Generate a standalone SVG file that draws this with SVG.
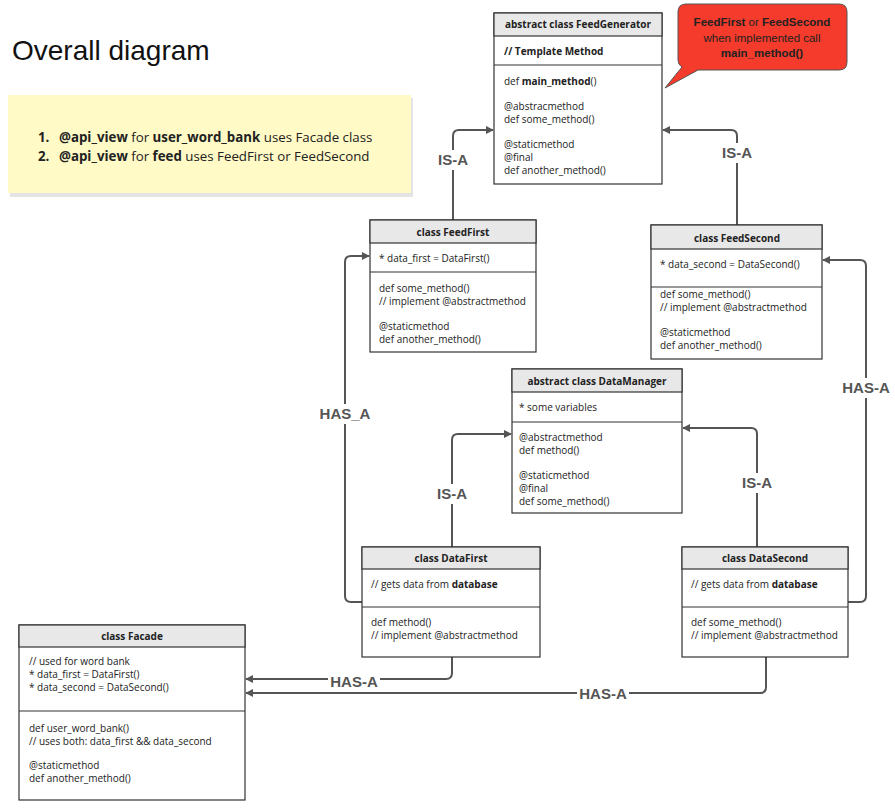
<svg xmlns="http://www.w3.org/2000/svg" width="895" height="811" viewBox="0 0 895 811">
<defs>
<style>
.box{fill:#fff;stroke:#333;stroke-width:1.2}
.hdr{fill:#e8e8e8;stroke:#333;stroke-width:1.2}
.div{stroke:#333;stroke-width:1.2}
.t{font-family:"Open Sans","DejaVu Sans",sans-serif;font-size:10px;fill:#222}
.h{font-family:"Open Sans","DejaVu Sans",sans-serif;font-size:10px;font-weight:bold;fill:#222}
.b{font-weight:bold}
.c{fill:none;stroke:#555;stroke-width:2}
.lbl{font-family:"Liberation Sans",Arial,sans-serif;font-size:15px;font-weight:bold;fill:#555;text-anchor:middle}
.lb{fill:#fff}
</style>
<marker id="ar" viewBox="0 0 10 10" refX="9" refY="5" markerWidth="4" markerHeight="4" orient="auto" markerUnits="strokeWidth">
<path d="M0,0 L10,5 L0,10 Z" fill="#555"/>
</marker>
</defs>
<rect width="895" height="811" fill="#fff"/>

<g id="title">
<text x="12" y="60" font-family="Liberation Sans,Arial,sans-serif" font-size="28" fill="#111">Overall diagram</text>
</g>

<g id="note">
<rect x="10" y="98" width="403" height="99" fill="#e4e4e4"/>
<rect x="8" y="95" width="403" height="98" fill="#fffac6"/>
<text x="38" y="142" font-family="Open Sans,DejaVu Sans,sans-serif" font-size="13.3" fill="#222"><tspan class="b">1.</tspan><tspan x="59" class="b">@api_view</tspan> for <tspan class="b">user_word_bank</tspan> uses Facade class</text>
<text x="38" y="161" font-family="Open Sans,DejaVu Sans,sans-serif" font-size="13.3" fill="#222"><tspan class="b">2.</tspan><tspan x="59" class="b">@api_view</tspan> for <tspan class="b">feed</tspan> uses FeedFirst or FeedSecond</text>
</g>

<g id="callout">
<path d="M686 4 H839 Q847 4 847 12 V62 Q847 70 839 70 H698 L665 88 L682 67 Q678 65 678 60 V12 Q678 4 686 4 Z" fill="#f53b2b" stroke="#555" stroke-width="1"/>
<text x="762" y="26" text-anchor="middle" font-family="Liberation Sans,Arial,sans-serif" font-size="11.5" fill="#222"><tspan class="b">FeedFirst</tspan> or <tspan class="b">FeedSecond</tspan></text>
<text x="762" y="42" text-anchor="middle" font-family="Liberation Sans,Arial,sans-serif" font-size="11.5" fill="#222">when implemented call</text>
<text x="762" y="57" text-anchor="middle" font-family="Liberation Sans,Arial,sans-serif" font-size="11.5" font-weight="bold" fill="#222">main_method()</text>
</g>

<g id="connectors">
<path class="c" d="M453 220 V136 Q453 130 459 130 H493" marker-end="url(#ar)"/>
<path class="c" d="M737 225 V136 Q737 130 731 130 H663" marker-end="url(#ar)"/>
<path class="c" d="M452 547 V440 Q452 434 458 434 H511" marker-end="url(#ar)"/>
<path class="c" d="M757 547 V434 Q757 428 751 428 H683" marker-end="url(#ar)"/>
<path class="c" d="M362 602 H351 Q345 602 345 596 V262 Q345 256 351 256 H369" marker-end="url(#ar)"/>
<path class="c" d="M848 602 H860 Q866 602 866 596 V266 Q866 260 860 260 H823" marker-end="url(#ar)"/>
<path class="c" d="M452 657 V673 Q452 679 446 679 H246" marker-end="url(#ar)"/>
<path class="c" d="M766 657 V687 Q766 693 760 693 H246" marker-end="url(#ar)"/>
<rect class="lb" x="437" y="150" width="32" height="20"/>
<text class="lbl" x="453" y="165">IS-A</text>
<rect class="lb" x="720" y="143" width="34" height="20"/>
<text class="lbl" x="737" y="158">IS-A</text>
<rect class="lb" x="436" y="484" width="32" height="20"/>
<text class="lbl" x="452" y="499">IS-A</text>
<rect class="lb" x="740" y="473" width="34" height="20"/>
<text class="lbl" x="757" y="488">IS-A</text>
<rect class="lb" x="316" y="404" width="58" height="20"/>
<text class="lbl" x="345" y="419">HAS_A</text>
<rect class="lb" x="841" y="378" width="50" height="20"/>
<text class="lbl" x="866" y="393">HAS-A</text>
<rect class="lb" x="328" y="671" width="52" height="20"/>
<text class="lbl" x="354" y="687">HAS-A</text>
<rect class="lb" x="577" y="684" width="52" height="20"/>
<text class="lbl" x="603" y="699">HAS-A</text>
</g>

<g id="FeedGenerator">
<rect class="box" x="494" y="13" width="168" height="171"/>
<rect class="hdr" x="494" y="13" width="168" height="23"/>
<line class="div" x1="494" y1="65" x2="662" y2="65"/>
<text class="h" x="578" y="28" text-anchor="middle">abstract class FeedGenerator</text>
<text class="h" x="504" y="55">// Template Method</text>
<text class="t" x="504" y="85">def <tspan class="b">main_method</tspan>()</text>
<text class="t" x="504" y="110">@abstracmethod</text>
<text class="t" x="504" y="123">def some_method()</text>
<text class="t" x="504" y="148">@staticmethod</text>
<text class="t" x="504" y="161">@final</text>
<text class="t" x="504" y="174">def another_method()</text>
</g>

<g id="FeedFirst">
<rect class="box" x="370" y="220" width="166" height="132"/>
<rect class="hdr" x="370" y="220" width="166" height="23"/>
<line class="div" x1="370" y1="272" x2="536" y2="272"/>
<text class="h" x="453" y="236" text-anchor="middle">class FeedFirst</text>
<text class="t" x="379" y="262">* data_first = DataFirst()</text>
<text class="t" x="379" y="292">def some_method()</text>
<text class="t" x="379" y="305">// implement @abstractmethod</text>
<text class="t" x="379" y="330">@staticmethod</text>
<text class="t" x="379" y="343">def another_method()</text>
</g>

<g id="FeedSecond">
<rect class="box" x="651" y="225" width="171" height="134"/>
<rect class="hdr" x="651" y="225" width="171" height="24"/>
<line class="div" x1="651" y1="287" x2="822" y2="287"/>
<text class="h" x="737" y="242" text-anchor="middle">class FeedSecond</text>
<text class="t" x="660" y="268">* data_second = DataSecond()</text>
<text class="t" x="660" y="298">def some_method()</text>
<text class="t" x="660" y="311">// implement @abstractmethod</text>
<text class="t" x="660" y="336">@staticmethod</text>
<text class="t" x="660" y="349">def another_method()</text>
</g>

<g id="DataManager">
<rect class="box" x="512" y="369" width="170" height="144"/>
<rect class="hdr" x="512" y="369" width="170" height="23"/>
<line class="div" x1="512" y1="422" x2="682" y2="422"/>
<text class="h" x="597" y="385" text-anchor="middle">abstract class DataManager</text>
<text class="t" x="519" y="411">* some variables</text>
<text class="t" x="519" y="441">@abstractmethod</text>
<text class="t" x="519" y="454">def method()</text>
<text class="t" x="519" y="479">@staticmethod</text>
<text class="t" x="519" y="492">@final</text>
<text class="t" x="519" y="505">def some_method()</text>
</g>

<g id="DataFirst">
<rect class="box" x="362" y="547" width="178" height="110"/>
<rect class="hdr" x="362" y="547" width="178" height="22"/>
<line class="div" x1="362" y1="607" x2="540" y2="607"/>
<text class="h" x="451" y="562" text-anchor="middle">class DataFirst</text>
<text class="t" x="371" y="588">// gets data from <tspan class="b">database</tspan></text>
<text class="t" x="371" y="626">def method()</text>
<text class="t" x="371" y="639">// implement @abstractmethod</text>
</g>

<g id="DataSecond">
<rect class="box" x="682" y="547" width="166" height="110"/>
<rect class="hdr" x="682" y="547" width="166" height="22"/>
<line class="div" x1="682" y1="607" x2="848" y2="607"/>
<text class="h" x="765" y="562" text-anchor="middle">class DataSecond</text>
<text class="t" x="691" y="588">// gets data from <tspan class="b">database</tspan></text>
<text class="t" x="691" y="626">def some_method()</text>
<text class="t" x="691" y="639">// implement @abstractmethod</text>
</g>

<g id="Facade">
<rect class="box" x="19" y="625" width="226" height="175"/>
<rect class="hdr" x="19" y="625" width="226" height="22"/>
<line class="div" x1="19" y1="711" x2="245" y2="711"/>
<text class="h" x="132" y="640" text-anchor="middle">class Facade</text>
<text class="t" x="29" y="665">// used for word bank</text>
<text class="t" x="29" y="678">* data_first = DataFirst()</text>
<text class="t" x="29" y="691">* data_second = DataSecond()</text>
<text class="t" x="29" y="732">def user_word_bank()</text>
<text class="t" x="29" y="745">// uses both: data_first &amp;&amp; data_second</text>
<text class="t" x="29" y="769">@staticmethod</text>
<text class="t" x="29" y="782">def another_method()</text>
</g>
</svg>
